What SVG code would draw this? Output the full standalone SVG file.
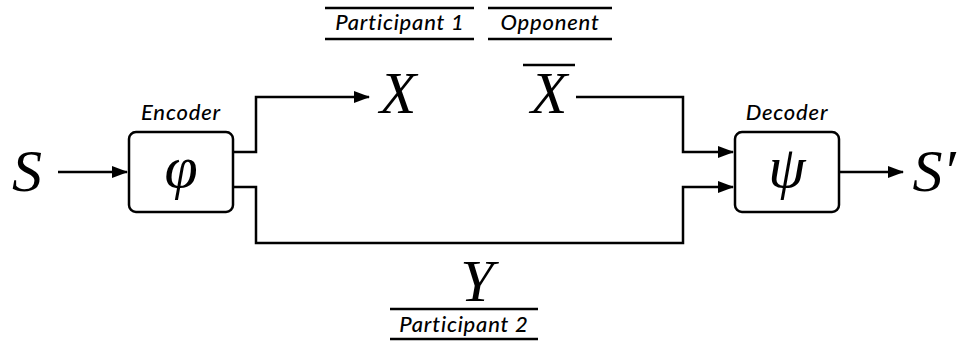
<svg xmlns="http://www.w3.org/2000/svg" width="976" height="341" viewBox="0 0 976 341">
<style>
.ln{fill:none;stroke:#000;stroke-width:2.5}
.box{fill:#fff;stroke:#000;stroke-width:2.5}
.lab{font-family:Lato,"Open Sans",sans-serif;font-style:italic;font-size:22px;font-weight:500;letter-spacing:0.8px;fill:#000;text-anchor:middle}
.m{font-family:"Liberation Serif","Times New Roman",serif;font-style:italic;font-size:60px;fill:#000;text-anchor:middle}
</style>
<defs>
<marker id="ah" markerWidth="16" markerHeight="12" refX="15" refY="6" orient="auto" markerUnits="userSpaceOnUse">
<path d="M0,0 L16,6 L0,12 z" fill="#000"/>
</marker>
</defs>
<g id="connectors">
<line class="ln" x1="58" y1="172" x2="127" y2="172" marker-end="url(#ah)"/>
<polyline class="ln" points="233,152 256,152 256,97 369,97" marker-end="url(#ah)"/>
<polyline class="ln" points="233,187 256,187 256,243 683,243 683,187 733,187" marker-end="url(#ah)"/>
<polyline class="ln" points="576,97 683,97 683,152 733,152" marker-end="url(#ah)"/>
<line class="ln" x1="839" y1="172" x2="903" y2="172" marker-end="url(#ah)"/>
</g>
<g id="S"><text class="m" x="27" y="191">S</text></g>
<g id="encoder">
<text class="lab" x="181" y="120">Encoder</text>
<rect class="box" x="129" y="132" width="104" height="80" rx="7"/>
<text class="m" x="181" y="187" font-size="52">φ</text>
</g>
<g id="decoder">
<text class="lab" x="787" y="120">Decoder</text>
<rect class="box" x="735" y="132" width="104" height="80" rx="7"/>
<text class="m" x="787" y="187" font-size="52">ψ</text>
</g>
<g id="Sprime"><text class="m" x="934" y="191">S′</text></g>
<g id="X">
<text class="m" x="398" y="113">X</text>
<line class="ln" x1="325" y1="8" x2="474" y2="8"/>
<text class="lab" x="400" y="30">Participant 1</text>
<line class="ln" x1="325" y1="39" x2="474" y2="39"/>
</g>
<g id="Xbar">
<text class="m" x="549" y="113">X</text>
<line class="ln" x1="523" y1="65" x2="575" y2="65"/>
<line class="ln" x1="488" y1="8" x2="612" y2="8"/>
<text class="lab" x="550" y="30">Opponent</text>
<line class="ln" x1="488" y1="39" x2="612" y2="39"/>
</g>
<g id="Y">
<text class="m" x="477" y="301">Y</text>
<line class="ln" x1="390" y1="309" x2="538" y2="309"/>
<text class="lab" x="464" y="332">Participant 2</text>
<line class="ln" x1="390" y1="339" x2="538" y2="339"/>
</g>
</svg>
